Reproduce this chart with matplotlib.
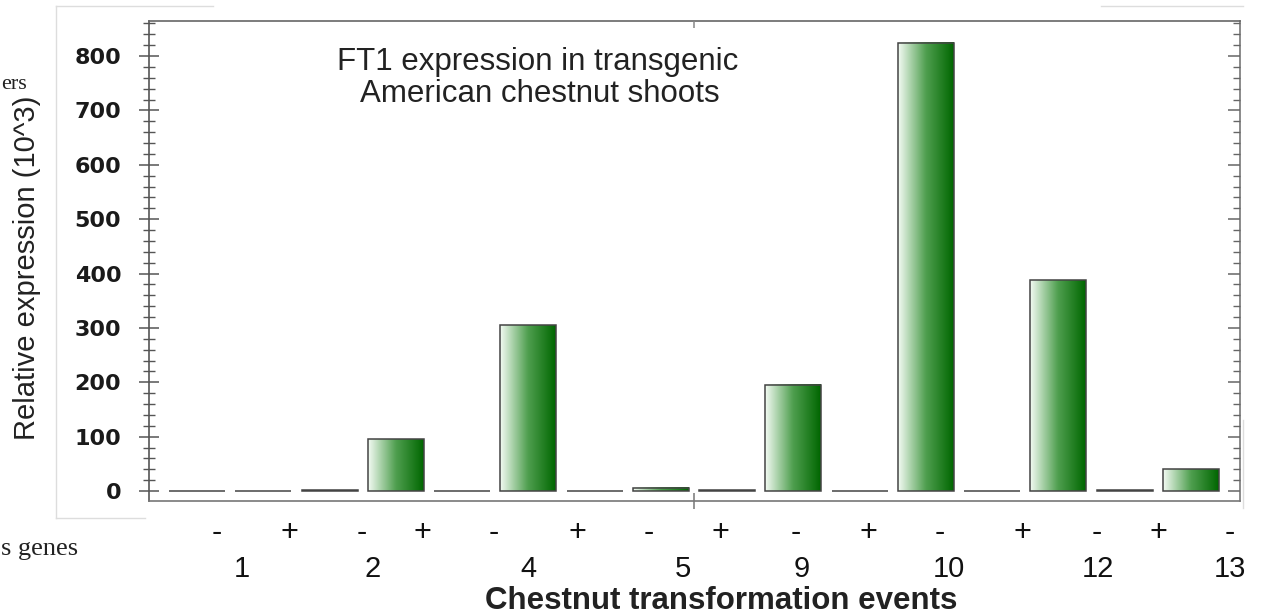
import matplotlib
matplotlib.use("Agg")
import matplotlib.pyplot as plt
import numpy as np
from matplotlib.colors import LinearSegmentedColormap
from matplotlib.ticker import MultipleLocator
from matplotlib.lines import Line2D

# data (relative expression, x10^3)
events = ['1', '2', '4', '5', '9', '10', '12', '13']
minus_vals = [0, 1, 0, 0, 1, 0, 0, 1]
plus_vals = [0, 95, 305, 6, 195, 824, 388, 40]
sign_labels = ['-', '+'] * 7 + ['-']

values = []
for m, p in zip(minus_vals, plus_vals):
    values += [m, p]

# where the pasted-in labels sit (pixels)
sign_x = [217, 289, 362, 422, 494, 577, 649, 720, 796, 868, 940, 1022, 1097, 1158, 1230]
event_x = [242, 373, 528, 683, 802, 949, 1098, 1230]

W, H = 1269, 616
plt.rcParams['font.family'] = ['Liberation Sans', 'DejaVu Sans']
fig = plt.figure(figsize=(W / 100, H / 100), dpi=100)


def fx(px):
    return px / W


def fy(py):
    return 1 - py / H


ax = fig.add_axes([fx(149), fy(501), fx(1240) - fx(149), fy(20.7) - fy(501)])
x = np.arange(len(values))
bars = ax.bar(x, values, width=0.845, facecolor='none', edgecolor='#444444',
              linewidth=1.1, zorder=3)

green = LinearSegmentedColormap.from_list('g', ['#f4fbf4', '#4f9f4f', '#006600'])
grad = np.linspace(0, 1, 256).reshape(1, -1)
for b in bars:
    h = b.get_height()
    if h < 2:
        continue
    x0 = b.get_x()
    w = b.get_width()
    ax.imshow(grad, cmap=green, aspect='auto', extent=[x0, x0 + w, 0, h],
              zorder=2, interpolation='bilinear')

ax.set_xlim(-0.725, 15.74)
ax.set_ylim(-18.4, 865)
ax.set_aspect('auto')

ax.set_yticks(range(0, 801, 100))
ax.yaxis.set_minor_locator(MultipleLocator(20))
ax.tick_params(axis='y', which='major', direction='inout', length=14, width=1.1,
               color='#555555', pad=13, labelsize=16, labelcolor='#1a1a1a')
ax.tick_params(axis='y', which='minor', direction='inout', length=8.5, width=1.0,
               color='#555555')
for t in ax.get_yticklabels():
    t.set_fontweight('bold')
    t.set_family('DejaVu Sans')

ax.set_xticks([7.5])
ax.set_xticklabels([])
ax.tick_params(axis='x', direction='inout', length=11, width=1.1, color='#777777')

for side, c in [('left', '#555555'), ('bottom', '#777777'), ('top', '#666666'), ('right', '#777777')]:
    ax.spines[side].set_color(c)
    ax.spines[side].set_linewidth(1.2)

# right side ticks pointing inwards
tw = ax.twinx()
tw.set_ylim(ax.get_ylim())
tw.set_yticks(range(0, 801, 100))
tw.yaxis.set_minor_locator(MultipleLocator(20))
tw.tick_params(axis='y', which='major', direction='in', length=8.5, width=1.1,
               color='#666666', labelright=False)
tw.tick_params(axis='y', which='minor', direction='in', length=5, width=1.0,
               color='#666666')
# single tick on top
ty = ax.twiny()
ty.set_xlim(ax.get_xlim())
ty.set_xticks([7.5])
ty.tick_params(axis='x', direction='in', length=5, width=1.1, color='#888888',
               labeltop=False)
for a in (tw, ty):
    for s in a.spines.values():
        s.set_visible(False)

# texts
fig.text(fx(538), fy(70), 'FT1 expression in transgenic', ha='center', va='baseline',
         fontsize=22.5, color='#222222')
fig.text(fx(540), fy(102), 'American chestnut shoots', ha='center', va='baseline',
         fontsize=22.5, color='#222222')
fig.text(fx(27), fy(268), 'Relative expression (10^3)', rotation=90, ha='center',
         va='center', fontsize=21, color='#222222')

for s, sx in zip(sign_labels, sign_x):
    fig.text(fx(sx), fy(541), s, ha='center', va='baseline', fontsize=22, color='#111111')
for e, ex in zip(events, event_x):
    fig.text(fx(ex), fy(577), e, ha='center', va='baseline', fontsize=21, color='#111111')
fig.text(fx(721), fy(609), 'Chestnut transformation events', ha='center', va='baseline',
         fontsize=22.5, fontweight='bold', color='#222222')

# fragments of the page behind the chart
fig.text(fx(1), fy(89), 'ers', ha='left', va='baseline', fontsize=16,
         family='Liberation Serif', color='#222222')
fig.text(fx(1), fy(555), 's genes', ha='left', va='baseline', fontsize=19,
         family='Liberation Serif', color='#222222')

# light frame of the pasted panel
frame = [((56, 6), (56, 518)), ((56, 6), (213, 6)), ((56, 518), (145, 518)),
         ((1101, 6), (1243, 6)), ((1243, 420), (1243, 508))]
for (xa, ya), (xb, yb) in frame:
    fig.add_artist(Line2D([fx(xa), fx(xb)], [fy(ya), fy(yb)], color='#dddddd',
                          linewidth=1.0, transform=fig.transFigure))

fig.savefig('out.png', dpi=100)
